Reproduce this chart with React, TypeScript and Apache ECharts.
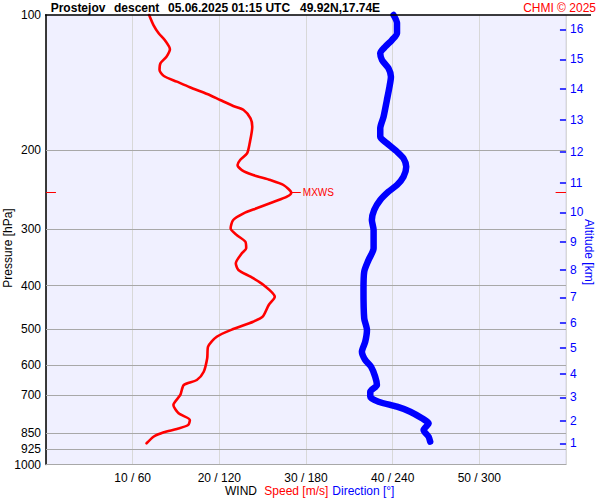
import React, { useEffect, useRef } from "react";
import * as echarts from "echarts";

const pressureLevels = [100, 200, 300, 400, 500, 600, 700, 850, 925, 1000];
const altitudeKm = [1, 2, 3, 4, 5, 6, 7, 8, 9, 10, 11, 12, 13, 14, 15, 16];
const altitudePressure = [897, 800, 709, 629, 551, 485, 425, 369, 320, 275, 236, 201.5, 171, 146, 125.5, 107.6];

const speedPressure = [100, 105.3, 109.8, 113.7, 119.2, 123.8, 128.1, 132.5, 136.7, 140.7, 144.8, 149.9, 154.6, 159.4, 162.7, 169.8, 177.2, 192.9, 203.1, 210.2, 215.7, 221.3, 227.0, 232.9, 238.9, 248.5, 253.6, 260.3, 269.2, 276.2, 285.8, 298.2, 308.6, 319.3, 330.4, 338.9, 356.8, 369.2, 382.1, 398.8, 423.4, 441.8, 469.1, 481.2, 499.6, 519.7, 546.9, 580.4, 621.8, 648.6, 665.4, 700.3, 737.2, 769.3, 796.2, 816.8, 833.7, 848.0, 867.4, 897.0];
const speedValues = [11.9, 12.4, 13.0, 13.7, 14.3, 13.9, 13.2, 13.1, 13.6, 15.1, 16.6, 18.6, 20.1, 21.6, 22.8, 23.6, 23.8, 23.5, 23.2, 22.4, 22.1, 22.6, 23.9, 25.9, 27.4, 28.3, 27.8, 26.3, 24.3, 22.8, 21.6, 21.3, 22.0, 23.0, 23.1, 22.6, 21.9, 22.2, 23.6, 25.1, 26.4, 25.7, 25.0, 23.9, 21.6, 19.7, 18.7, 18.6, 18.2, 17.4, 15.9, 15.5, 14.7, 15.3, 16.6, 16.4, 15.1, 13.6, 12.4, 11.6];

const dirPressure = [100, 104.3, 109.8, 113.7, 117.6, 121.7, 125.9, 131.4, 137.2, 144.4, 154.6, 168.4, 178.7, 186.5, 192.9, 201.4, 208.4, 217.5, 229.0, 238.9, 247.2, 258.0, 271.5, 285.8, 300.8, 330.4, 350.8, 372.5, 409.1, 473.0, 502.1, 533.3, 561.3, 585.5, 605.9, 637.8, 665.4, 688.7, 706.6, 725.0, 743.7, 763.0, 789.3, 809.9, 837.9, 867.4, 889.8];
const dirValues = [240.6, 243.0, 243.0, 239.5, 234.9, 231.4, 232.6, 237.1, 238.8, 237.8, 236.0, 233.7, 231.4, 231.4, 236.0, 243.0, 247.5, 249.4, 247.5, 243.0, 237.1, 231.4, 227.2, 225.6, 226.8, 226.8, 223.3, 220.3, 219.8, 220.3, 222.2, 221.0, 218.7, 221.0, 225.0, 227.9, 229.1, 224.5, 224.5, 230.2, 243.0, 252.2, 260.3, 264.9, 261.4, 264.9, 266.0];

const mxwsSpeed = 28.3;
const mxwsPressure = 248.5;

const FONT = "'Liberation Sans', Arial, sans-serif";

export default function App() {
  const ref = useRef<HTMLDivElement>(null);
  useEffect(() => {
    if (!ref.current) return;
    const chart = echarts.init(ref.current, undefined, { renderer: "svg" });

    const levelLines = pressureLevels.map((p) => ({
      yAxis: p,
      lineStyle: { color: p === 100 ? "rgba(0,0,0,0)" : "#a8a8a8", width: 1, type: "solid" },
      label: { show: true, position: "start", formatter: String(p), color: "#000", fontSize: 12, fontFamily: FONT, distance: 5 },
    }));
    const altTicks = altitudeKm.map((km, i) => [
      {
        coord: [59.3, altitudePressure[i]],
        lineStyle: { color: "#0000ff", width: 1.5, type: "solid" },
        label: { show: true, position: "end", formatter: String(km), color: "#0000ff", fontSize: 12, fontFamily: FONT, distance: 4 },
      },
      { coord: [60, altitudePressure[i]] },
    ]);
    const mxwsLines = [
      [
        {
          coord: [mxwsSpeed, mxwsPressure],
          lineStyle: { color: "#ff0000", width: 1, type: "solid" },
          label: { show: true, position: "end", formatter: "MXWS", color: "#ff0000", fontSize: 10, fontFamily: FONT, distance: 2 },
        },
        { coord: [mxwsSpeed + 1.1, mxwsPressure] },
      ],
      [
        { coord: [0, mxwsPressure], lineStyle: { color: "#ff0000", width: 1, type: "solid" }, label: { show: false } },
        { coord: [1.15, mxwsPressure] },
      ],
      [
        { coord: [58.8, mxwsPressure], lineStyle: { color: "#ff0000", width: 1, type: "solid" }, label: { show: false } },
        { coord: [60, mxwsPressure] },
      ],
    ];

    chart.setOption({
      animation: false,
      backgroundColor: "#ffffff",
      textStyle: { fontFamily: FONT },
      grid: {
        left: 46,
        right: 34,
        top: 15,
        bottom: 35.5,
        show: true,
        backgroundColor: "#f0f0ff",
        borderColor: "#d4d4e4",
        borderWidth: 1,
        containLabel: false,
      },
      xAxis: [
        {
          type: "value",
          min: 0,
          max: 60,
          interval: 10,
          position: "bottom",
          axisLine: { show: true, onZero: false, lineStyle: { color: "#a8a8a8", width: 1 } },
          axisTick: { show: false },
          axisLabel: {
            show: true,
            showMinLabel: false,
            showMaxLabel: false,
            margin: 7,
            color: "#000",
            fontSize: 12,
            fontFamily: FONT,
            formatter: (v: number) => `${v} / ${v * 6}`,
          },
          splitLine: { show: true, lineStyle: { color: "#d8d8d8", width: 1 } },
        },
        {
          type: "value",
          min: 0,
          max: 360,
          interval: 60,
          position: "top",
          show: false,
        },
      ],
      yAxis: [
        {
          type: "log",
          logBase: 10,
          min: 100,
          max: 1000,
          inverse: true,
          axisLine: { show: true, lineStyle: { color: "#000", width: 1.5 } },
          axisTick: { show: false },
          axisLabel: { show: false },
          splitLine: { show: false },
          minorSplitLine: { show: false },
        },
      ],
      series: [
        {
          type: "line",
          name: "Speed",
          xAxisIndex: 0,
          yAxisIndex: 0,
          data: speedValues.map((s, i) => [s, speedPressure[i]]),
          showSymbol: false,
          symbol: "none",
          smooth: 0.25,
          clip: false,
          lineStyle: { color: "#ff0000", width: 2.6, cap: "round", join: "round" },
          z: 3,
          markLine: {
            silent: true,
            symbol: ["none", "none"],
            animation: false,
            z: 1,
            data: [...levelLines, ...altTicks, ...mxwsLines],
          },
        },
        {
          type: "line",
          name: "Direction",
          xAxisIndex: 1,
          yAxisIndex: 0,
          data: dirValues.map((d, i) => [d, dirPressure[i]]),
          showSymbol: false,
          symbol: "none",
          smooth: 0.25,
          clip: false,
          lineStyle: { color: "#0000ff", width: 6.5, cap: "round", join: "round" },
          z: 4,
        },
      ],
      graphic: [
        { type: "line", shape: { x1: 45, y1: 15, x2: 591, y2: 15 }, style: { stroke: "#000", lineWidth: 1.5 }, z: 10 },
        { type: "text", x: 50.7, y: 8, style: { text: "Prostejov", font: `bold 12px ${FONT}`, fill: "#000", textVerticalAlign: "middle" } },
        { type: "text", x: 114, y: 8, style: { text: "descent", font: `bold 12px ${FONT}`, fill: "#000", textVerticalAlign: "middle" } },
        { type: "text", x: 168, y: 8, style: { text: "05.06.2025 01:15 UTC", font: `bold 12px ${FONT}`, fill: "#000", textVerticalAlign: "middle" } },
        { type: "text", x: 300, y: 8, style: { text: "49.92N,17.74E", font: `bold 12px ${FONT}`, fill: "#000", textVerticalAlign: "middle" } },
        { type: "text", x: 596, y: 8, style: { text: "CHMI © 2025", font: `12px ${FONT}`, fill: "#ff0000", textAlign: "right", textVerticalAlign: "middle" } },
        { type: "text", x: 225, y: 491, style: { text: "WIND", font: `12px ${FONT}`, fill: "#000", textVerticalAlign: "middle" } },
        { type: "text", x: 264.3, y: 491, style: { text: "Speed [m/s]", font: `12px ${FONT}`, fill: "#ff0000", textVerticalAlign: "middle" } },
        { type: "text", x: 332.3, y: 491, style: { text: "Direction [°]", font: `12px ${FONT}`, fill: "#0000ff", textVerticalAlign: "middle" } },
        { type: "text", x: 8, y: 248, rotation: Math.PI / 2, style: { text: "Pressure [hPa]", font: `12px ${FONT}`, fill: "#000", textAlign: "center", textVerticalAlign: "middle" } },
        { type: "text", x: 589, y: 252, rotation: -Math.PI / 2, style: { text: "Altitude [km]", font: `12px ${FONT}`, fill: "#0000ff", textAlign: "center", textVerticalAlign: "middle" } },
      ],
    });
    return () => chart.dispose();
  }, []);
  return <div ref={ref} style={{ position: "fixed", left: 0, top: 0, width: 600, height: 500 }} />;
}
